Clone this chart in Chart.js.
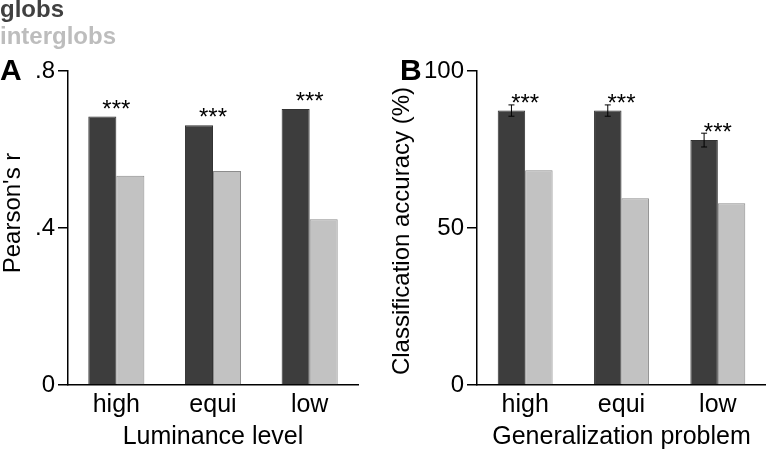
<!DOCTYPE html>
<html>
<head>
<meta charset="utf-8">
<script src="https://cdn.jsdelivr.net/npm/chart.js@4"></script>
<style>
  body { margin: 0; background: #fff; }
  #wrap { position: relative; width: 766px; height: 451px; overflow: hidden; font-family: "Liberation Sans", Arial, sans-serif; }
  canvas { position: absolute; top: 0; }
  #chartA { left: 0; }
  #chartB { left: 383px; }
  .lbl { position: absolute; font-weight: bold; line-height: 1; white-space: nowrap; }
</style>
</head>
<body>
<div id="wrap">
  <canvas id="chartA" width="383" height="451"></canvas>
  <canvas id="chartB" width="383" height="451"></canvas>
  <div class="lbl" style="left:0;top:-3px;font-size:24px;color:#404040;">globs</div>
  <div class="lbl" style="left:0;top:24px;font-size:24px;color:#bdbdbd;">interglobs</div>
  <div class="lbl" style="left:0;top:55px;font-size:30px;color:#000;">A</div>
  <div class="lbl" style="left:400px;top:55px;font-size:30px;color:#000;">B</div>
</div>
<script>
const categories = ['high', 'equi', 'low']

// panel A - correlation
const globsA = [0.684, 0.662, 0.703]
const interglobsA = [0.533, 0.545, 0.422]
const ticksA = [0, 0.4, 0.8]

// panel B - classification accuracy
const globsB = [87.4, 87.4, 78.0]
const globsErrB = [1.8, 1.8, 2.2]
const interglobsB = [68.4, 59.5, 57.9]
const ticksB = [0, 50, 100]

const stars = ['***', '***', '***']

const FONT = "'Liberation Sans', Arial, sans-serif"
const DARK = '#3d3d3d'
const LIGHT = '#c2c2c2'

// draws the significance stars, error bars and the rotated y title
const markersPlugin = {
  id: 'markers',
  afterDatasetsDraw(chart, args, opts) {
    const ctx = chart.ctx
    const x = chart.scales.x
    const y = chart.scales.y
    const meta = chart.getDatasetMeta(0)
    const vals = chart.data.datasets[0].data
    ctx.save()
    ctx.strokeStyle = '#000'
    ctx.lineWidth = 1
    if (opts.errors) {
      opts.errors.forEach((e, i) => {
        const bx = meta.data[i].x
        const y1 = y.getPixelForValue(vals[i] + e)
        const y2 = y.getPixelForValue(vals[i] - e)
        ctx.beginPath()
        ctx.moveTo(bx, y1); ctx.lineTo(bx, y2)
        ctx.moveTo(bx - 3, y1); ctx.lineTo(bx + 3, y1)
        ctx.moveTo(bx - 3, y2); ctx.lineTo(bx + 3, y2)
        ctx.stroke()
      })
    }
    ctx.fillStyle = '#000'
    ctx.font = '24px ' + FONT
    ctx.textAlign = 'center'
    ctx.textBaseline = 'alphabetic'
    stars.forEach((s, i) => {
      ctx.fillText(s, x.getPixelForValue(i), y.getPixelForValue(vals[i]))
    })
    // y axis title
    const area = chart.chartArea
    ctx.translate(opts.titleX, (area.top + area.bottom) / 2 + opts.titleDy)
    ctx.rotate(-Math.PI / 2)
    ctx.font = '24px ' + FONT
    ctx.fillText(opts.yTitle, 0, 0)
    ctx.restore()
  }
}

function makePanel(id, opts) {
  return new Chart(document.getElementById(id), {
    type: 'bar',
    data: {
      labels: categories,
      datasets: [
        { label: 'globs', data: opts.globs, backgroundColor: DARK, borderColor: '#333', borderWidth: 1 },
        { label: 'interglobs', data: opts.inter, backgroundColor: LIGHT, borderColor: '#8c8c8c', borderWidth: 1 }
      ]
    },
    plugins: [markersPlugin],
    options: {
      responsive: false,
      animation: false,
      devicePixelRatio: 1,
      categoryPercentage: opts.catPct,
      barPercentage: 1.0,
      layout: { padding: { left: 0, right: opts.padRight, top: 71, bottom: 0 } },
      plugins: {
        legend: { display: false },
        tooltip: { enabled: false },
        markers: { errors: opts.errors, yTitle: opts.yTitle, titleX: opts.titleX, titleDy: opts.titleDy }
      },
      scales: {
        x: {
          afterFit: s => { s.height = 66 },
          grid: { display: true, drawOnChartArea: false, drawTicks: false },
          border: { display: true, color: '#000', width: 1.5 },
          ticks: { color: '#000', font: { family: FONT, size: 25 }, padding: 5 },
          title: {
            display: true, text: opts.xTitle, color: '#000',
            font: { family: FONT, size: 25, lineHeight: 1.0 },
            padding: { top: 0, bottom: 1 }
          }
        },
        y: {
          min: 0,
          max: opts.ticks[opts.ticks.length - 1],
          afterFit: s => { s.width = opts.yWidth },
          afterBuildTicks: s => { s.ticks = opts.ticks.map(v => ({ value: v })) },
          grid: { display: true, drawOnChartArea: false, drawTicks: true, tickLength: 10, color: '#000', lineWidth: 1.5 },
          border: { display: true, color: '#000', width: 1.5 },
          ticks: { color: '#000', font: { family: FONT, size: 24 }, padding: 3, callback: opts.fmt },
          title: { display: false }
        }
      }
    }
  })
}

makePanel('chartA', {
  globs: globsA, inter: interglobsA, ticks: ticksA,
  fmt: v => v === 0 ? '0' : String(v).replace(/^0/, ''),
  xTitle: 'Luminance level', yTitle: "Pearson's r",
  yWidth: 68, padRight: 25, catPct: 0.58, titleX: 20, titleDy: -15
})

makePanel('chartB', {
  globs: globsB, inter: interglobsB, ticks: ticksB, errors: globsErrB,
  fmt: v => String(v),
  xTitle: 'Generalization problem', yTitle: 'Classification accuracy (%)',
  yWidth: 94, padRight: 0, catPct: 0.57, titleX: 26, titleDy: 3
})
</script>
</body>
</html>
